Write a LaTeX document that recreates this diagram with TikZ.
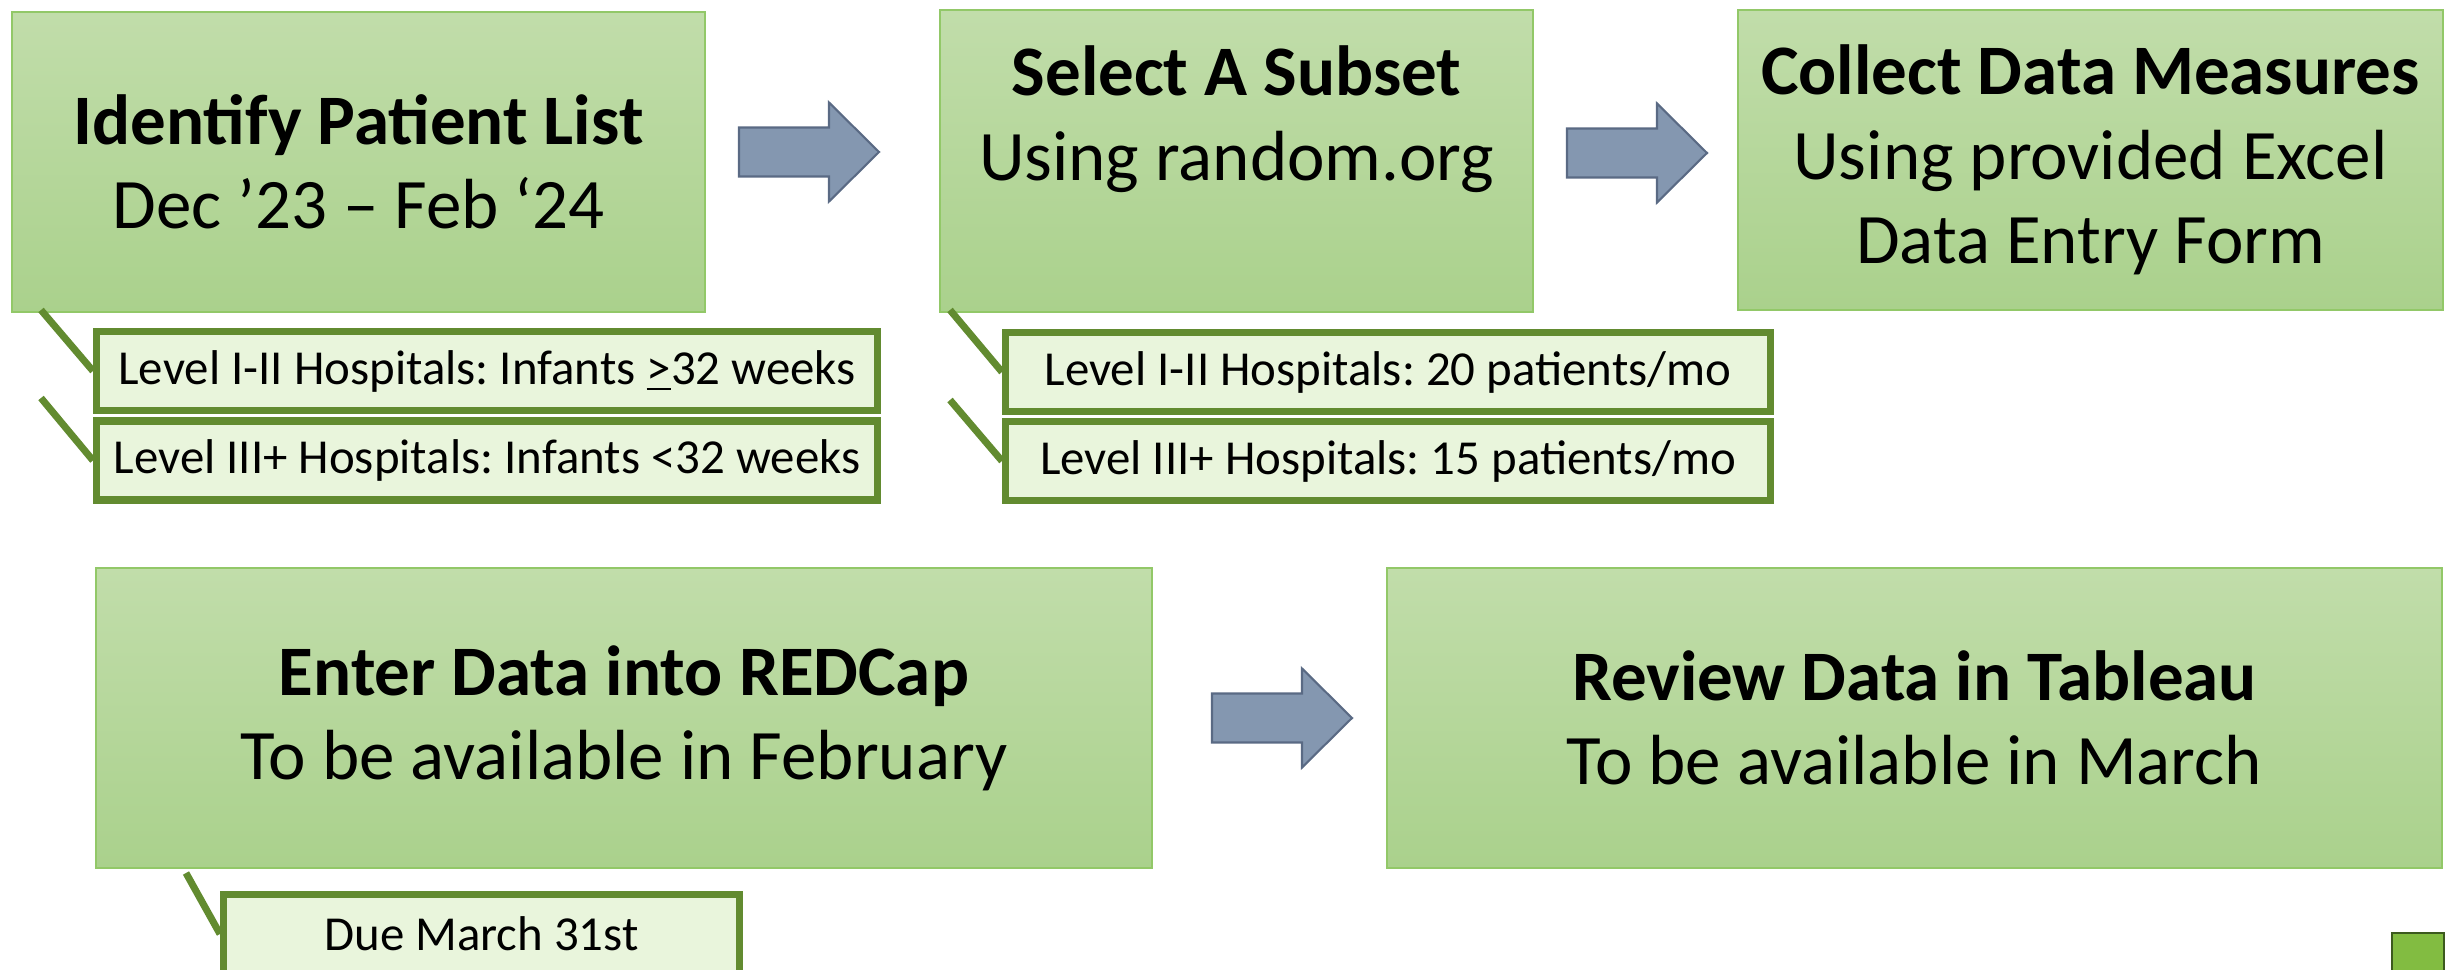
\documentclass[tikz,border=0pt]{standalone}
\usepackage{fontspec}
\setmainfont{Carlito}
\usepackage{tikz}
\frenchspacing

\definecolor{stagetop}{RGB}{193,221,170}
\definecolor{stagebot}{RGB}{170,209,140}
\definecolor{stageedge}{RGB}{146,200,104}
\definecolor{notefill}{RGB}{233,245,220}
\definecolor{noteedge}{RGB}{98,139,48}
\definecolor{arrowfill}{RGB}{132,151,176}
\definecolor{arrowedge}{RGB}{90,106,132}
\definecolor{markfill}{RGB}{130,188,65}
\definecolor{markedge}{RGB}{60,90,30}

% block arrow pointing right, #1 = middle of its tail
\newcommand{\flowarrow}[1]{%
  \draw[bigarrow, shift={#1}] (0,0.245) -- (0.9,0.245) -- (0.9,0.495) -- (1.4,0)
    -- (0.9,-0.495) -- (0.9,-0.245) -- (0,-0.245) -- cycle;}

\begin{document}
\begin{tikzpicture}[
  stage/.style={draw=stageedge, line width=0.6pt, top color=stagetop, bottom color=stagebot,
    align=center, minimum height=3cm, font=\fontsize{20.2}{24}\selectfont},
  note/.style={draw=noteedge, line width=2pt, fill=notefill, minimum height=0.79cm,
    inner sep=0pt, font=\fontsize{13.9}{16}\selectfont},
  leader/.style={noteedge, line width=2pt},
  bigarrow/.style={draw=arrowedge, line width=0.6pt, fill=arrowfill}
]
\clip (0,0) rectangle (24.56,9.69);

% top row
\node[stage, minimum width=6.93cm] (ident) at (3.585,8.07)
  {\textbf{Identify Patient List}\\Dec ’23 – Feb ‘24};
\node[stage, minimum width=5.93cm, minimum height=3.02cm] (subset) at (12.365,8.08)
  {\textbf{Select A Subset}\\Using random.org\\\phantom{Data Entry Form}};
\node[stage, minimum width=7.05cm] (collect) at (20.905,8.09)
  {\textbf{Collect Data Measures}\\Using provided Excel\\Data Entry Form};
\flowarrow{(7.39,8.17)}
\flowarrow{(15.67,8.16)}

% bottom row
\node[stage, minimum width=10.56cm] (redcap) at (6.24,2.51)
  {\textbf{Enter Data into REDCap}\\To be available in February};
\node[stage, minimum width=10.55cm] (tableau) at (19.145,2.51)
  {\textbf{Review Data in Tableau}\\To be available in March};
\flowarrow{(12.12,2.51)}

% notes under the boxes
\node[note, minimum width=7.81cm] (levA) at (4.87,5.98)
  {Level I-II Hospitals: Infants \underline{>}32 weeks};
\node[note, minimum width=7.81cm] (levB) at (4.87,5.085)
  {Level III+ Hospitals: Infants <32 weeks};
\node[note, minimum width=7.65cm] (subA) at (13.88,5.97)
  {Level I-II Hospitals: 20 patients/mo};
\node[note, minimum width=7.65cm] (subB) at (13.88,5.08)
  {Level III+ Hospitals: 15 patients/mo};
\node[note, minimum width=5.16cm] (due) at (4.815,0.35) {Due March 31st};

\coordinate (levAfoot) at (0.41,6.59);
\coordinate (levBfoot) at (0.41,5.71);
\coordinate (subAfoot) at (9.50,6.59);
\coordinate (subBfoot) at (9.50,5.69);
\coordinate (duefoot) at (1.86,0.96);
\draw[leader] (levAfoot) -- (levA.west);
\draw[leader] (levBfoot) -- (levB.west);
\draw[leader] (subAfoot) -- (subA.west);
\draw[leader] (subBfoot) -- (subB.west);
\draw[leader] (duefoot) -- (due.west);

% small square in the corner
\draw[markedge, line width=0.8pt, fill=markfill] (23.92,-0.2) rectangle (24.44,0.36);
\end{tikzpicture}
\end{document}
